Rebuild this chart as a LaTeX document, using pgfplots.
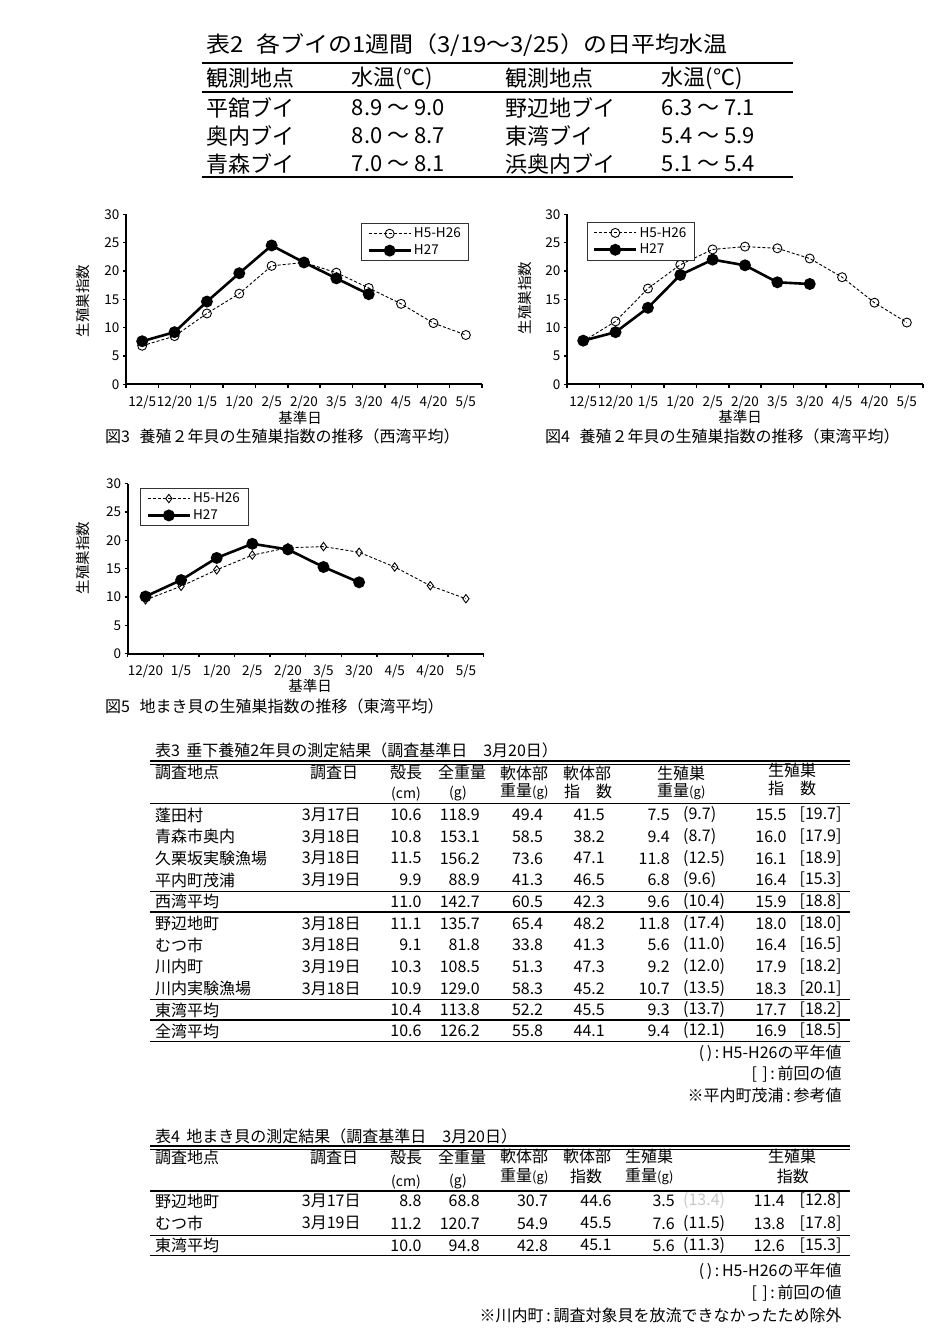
\documentclass[border=0pt]{standalone}
\usepackage{fontspec}
\setmainfont{Noto Sans CJK JP}
\usepackage{pgfplots}
\pgfplotsset{compat=1.18}
\newcommand\fs[1]{\fontsize{#1}{#1}\selectfont}

\pgfplotsset{
  gonad/.style={
    scale only axis, width=356pt, height=170pt,
    ymin=0, ymax=30, ytick={0,5,...,30},
    axis x line*=bottom, axis y line*=left,
    axis line style={line width=2pt},
    tick align=outside,
    major tick length=3pt, minor tick length=3.5pt,
    tick style={black, line width=1.5pt},
    major x tick style={draw=none},
    ticklabel style={font=\fs{13.5}},
    xticklabel style={yshift=-4.5pt},
    /pgf/number format/assume math mode=true,
    legend cell align=left,
    legend style={draw=black!80, line width=0.8pt, font=\fs{13.5},
      inner xsep=6pt, inner ysep=2.5pt, row sep=1.5pt, anchor=north west},
    clip=false,
  },
  avg/.style={black, line width=0.9pt, dash pattern=on 3pt off 2pt,
    mark=o, mark size=4.5pt, mark options={solid, fill=white, line width=0.9pt}},
  cur/.style={black, line width=2.6pt, mark=*, mark size=4.6pt, mark options={solid}},
}
\pgfplotsset{legend image code/.code={%
  \draw[mark repeat=2,mark phase=2,#1] plot coordinates {(0pt,0pt) (21pt,0pt) (42pt,0pt)};}}

\begin{document}
\begin{tikzpicture}
\useasboundingbox (0pt,0pt) rectangle (944pt,-1337pt);

% --- 図3 西湾平均
\begin{axis}[gonad, at={(126pt,-384.3pt)}, anchor=south west,
  xmin=-0.5, xmax=10.5, xtick={0,...,10}, minor xtick={-0.5,0.5,...,10.5},
  xticklabels={12/5,12/20,1/5,1/20,2/5,2/20,3/5,3/20,4/5,4/20,5/5},
  legend style={at={(0.66,0.948)}}]
\addplot[avg] coordinates {(0,6.8) (1,8.5) (2,12.5) (3,16.0) (4,20.9) (5,21.5) (6,19.7) (7,17.0) (8,14.2) (9,10.8) (10,8.7)};
\addplot[cur] coordinates {(0,7.6) (1,9.2) (2,14.6) (3,19.6) (4,24.5) (5,21.5) (6,18.7) (7,15.9)};
\legend{H5-H26,H27}
\end{axis}

% --- 図4 東湾平均
\begin{axis}[gonad, at={(567pt,-384.3pt)}, anchor=south west,
  xmin=-0.5, xmax=10.5, xtick={0,...,10}, minor xtick={-0.5,0.5,...,10.5},
  xticklabels={12/5,12/20,1/5,1/20,2/5,2/20,3/5,3/20,4/5,4/20,5/5},
  legend style={at={(0.055,0.953)}}]
\addplot[avg] coordinates {(0,7.6) (1,11.1) (2,16.9) (3,21.1) (4,23.8) (5,24.3) (6,24.0) (7,22.2) (8,18.9) (9,14.4) (10,10.9)};
\addplot[cur] coordinates {(0,7.7) (1,9.2) (2,13.5) (3,19.3) (4,22.0) (5,21.0) (6,18.0) (7,17.7)};
\legend{H5-H26,H27}
\end{axis}

% --- 図5 地まき貝
\begin{axis}[gonad, at={(127.7pt,-653.7pt)}, anchor=south west,
  xmin=-0.5, xmax=9.5, xtick={0,...,9}, minor xtick={-0.5,0.5,...,9.5},
  xticklabels={12/20,1/5,1/20,2/5,2/20,3/5,3/20,4/5,4/20,5/5},
  legend style={at={(0.035,0.975)}}]
\addplot[avg, mark=diamond, mark size=4.2pt] coordinates {(0,9.5) (1,11.9) (2,14.8) (3,17.4) (4,18.7) (5,18.9) (6,17.9) (7,15.3) (8,12.0) (9,9.7)};
\addplot[cur] coordinates {(0,10.1) (1,13.0) (2,16.9) (3,19.4) (4,18.4) (5,15.3) (6,12.6)};
\legend{H5-H26,H27}
\end{axis}

\begin{scope}[x=1pt, y=-1pt, every node/.style={inner sep=0pt, font=\fs{16}}]
% 表2
\node[anchor=west, font=\fs{22}, xscale=1.09] at (206.7,45) {表2\hspace{0.5em}各ブイの1週間（3/19～3/25）の日平均水温};
\draw[line width=2pt] (201.7,62.7) -- (793.3,62.7);
\draw[line width=1.8pt] (201.7,91.7) -- (793.3,91.7);
\draw[line width=2pt] (201.7,176.7) -- (793.3,176.7);
\begin{scope}[every node/.style={inner sep=0pt, font=\fs{22}, anchor=west}]
\node at (206.7,78) {観測地点}; \node at (351.7,78) {水温(℃)};
\node at (505,78) {観測地点}; \node at (661.7,78) {水温(℃)};
\foreach \y/\a/\b/\c/\d in {107.5/平舘ブイ/8.9 ～ 9.0/野辺地ブイ/6.3 ～ 7.1,
  136/奥内ブイ/8.0 ～ 8.7/東湾ブイ/5.4 ～ 5.9,
  164/青森ブイ/7.0 ～ 8.1/浜奥内ブイ/5.1 ～ 5.4}{
  \node at (206.7,\y) {\a}; \node at (351.7,\y) {\b};
  \node at (505,\y) {\c}; \node at (661.7,\y) {\d};
}
\end{scope}

% chart texts
\begin{scope}[every node/.style={inner sep=0pt, font=\fs{14.5}}]
\node[rotate=90] at (83,301) {生殖巣指数};
\node[rotate=90] at (525,298) {生殖巣指数};
\node[rotate=90] at (83,558) {生殖巣指数};
\node at (300,418) {基準日};
\node at (740,416.7) {基準日};
\node at (310,686) {基準日};
\end{scope}
\begin{scope}[every node/.style={inner sep=0pt, font=\fs{16}, anchor=west}]
\node at (105,436) {図3\hspace{0.6em}養殖２年貝の生殖巣指数の推移（西湾平均）};
\node at (545,436) {図4\hspace{0.6em}養殖２年貝の生殖巣指数の推移（東湾平均）};
\node at (105,706) {図5\hspace{0.6em}地まき貝の生殖巣指数の推移（東湾平均）};
\end{scope}

% 表3
\node[anchor=west] at (155,750) {表3\hspace{0.4em}垂下養殖2年貝の測定結果（調査基準日　3月20日）};
\draw[line width=1.8pt] (150,760.7) -- (850,760.7);
\draw[line width=0.8pt] (150,764.2) -- (850,764.2);
\begin{scope}[every node/.style={inner sep=0pt, font=\fs{16}, anchor=west}]
\node at (155,772) {調査地点}; \node at (310,772) {調査日};
\node at (390,772) {殻長}; \node at (438,772) {全重量};
\node at (500,773) {軟体部}; \node at (563,773) {軟体部};
\node at (657,773) {生殖巣}; \node at (768,770) {生殖巣};
\node[font=\fs{14}] at (391,794) {(cm)}; \node[font=\fs{14}] at (449,794) {(g)};
\node at (500,791.7) {重量{\fs{13}(g)}}; \node at (564,791.7) {指　数};
\node at (657,791.7) {重量{\fs{13}(g)}}; \node at (768,788.3) {指　数};
\end{scope}
\draw[line width=1.2pt] (150,803.3) -- (850,803.3);
\draw[line width=1pt] (150,891.5) -- (850,891.5);
\draw[line width=2pt] (150,911.7) -- (850,911.7);
\draw[line width=1pt] (150,999.3) -- (850,999.3);
\draw[line width=2pt] (150,1020.3) -- (850,1020.3);
\draw[line width=1pt] (150,1041) -- (850,1041);
\foreach \y/\n/\d/\a/\b/\c/\e/\f/\p/\g/\h in {
  815/蓬田村/3月17日/10.6/118.9/49.4/41.5/7.5/(9.7)/15.5/[19.7],
  836.7/青森市奥内/3月18日/10.8/153.1/58.5/38.2/9.4/(8.7)/16.0/[17.9],
  858.3/久栗坂実験漁場/3月18日/11.5/156.2/73.6/47.1/11.8/(12.5)/16.1/[18.9],
  880/平内町茂浦/3月19日/9.9/88.9/41.3/46.5/6.8/(9.6)/16.4/[15.3],
  901.7/西湾平均//11.0/142.7/60.5/42.3/9.6/(10.4)/15.9/[18.8],
  923.4/野辺地町/3月18日/11.1/135.7/65.4/48.2/11.8/(17.4)/18.0/[18.0],
  945/むつ市/3月18日/9.1/81.8/33.8/41.3/5.6/(11.0)/16.4/[16.5],
  966.7/川内町/3月19日/10.3/108.5/51.3/47.3/9.2/(12.0)/17.9/[18.2],
  988.4/川内実験漁場/3月18日/10.9/129.0/58.3/45.2/10.7/(13.5)/18.3/[20.1],
  1010/東湾平均//10.4/113.8/52.2/45.5/9.3/(13.7)/17.7/[18.2],
  1031/全湾平均//10.6/126.2/55.8/44.1/9.4/(12.1)/16.9/[18.5]}{
  \node[anchor=west] at (155,\y) {\n};
  \node[anchor=west] at (301.7,\y) {\d};
  \node[anchor=east] at (421.7,\y) {\a};
  \node[anchor=east] at (480,\y) {\b};
  \node[anchor=east] at (543.3,\y) {\c};
  \node[anchor=east] at (605,\y) {\e};
  \node[anchor=east] at (670,\y) {\f};
  \node[anchor=west] at (683,\y) {\p};
  \node[anchor=east] at (786.7,\y) {\g};
  \node[anchor=east] at (841.7,\y) {\h};
}
\node[anchor=east] at (841.7,1053) {(\,)\,:\,H5-H26の平年値};
\node[anchor=east] at (841.7,1074) {[\,\,]\,:\,前回の値};
\node[anchor=east] at (841.7,1095) {※平内町茂浦\,:\,参考値};

% 表4
\node[anchor=west] at (155,1136) {表4\hspace{0.4em}地まき貝の測定結果（調査基準日　3月20日）};
\draw[line width=1.8pt] (150,1146) -- (850,1146);
\draw[line width=0.8pt] (150,1149.5) -- (850,1149.5);
\begin{scope}[every node/.style={inner sep=0pt, font=\fs{16}, anchor=west}]
\node at (155,1157) {調査地点}; \node at (310,1157) {調査日};
\node at (390,1157) {殻長}; \node at (438,1157) {全重量};
\node at (500,1156.7) {軟体部}; \node at (563,1156.7) {軟体部};
\node at (625,1156.7) {生殖巣}; \node at (768,1156.7) {生殖巣};
\node[font=\fs{14}] at (391,1182) {(cm)}; \node[font=\fs{14}] at (449,1182) {(g)};
\node at (500,1176.7) {重量{\fs{13}(g)}}; \node at (570,1176.7) {指数};
\node at (625,1176.7) {重量{\fs{13}(g)}}; \node at (776.7,1176.7) {指数};
\end{scope}
\draw[line width=2pt] (150,1190.7) -- (850,1190.7);
\draw[line width=1pt] (150,1235) -- (850,1235);
\draw[line width=1pt] (150,1255.7) -- (850,1255.7);
\foreach \y/\n/\d/\a/\b/\c/\e/\f/\p/\g/\h/\col in {
  1201/野辺地町/3月17日/8.8/68.8/30.7/44.6/3.5/(13.4)/11.4/[12.8]/black!22,
  1223.3/むつ市/3月19日/11.2/120.7/54.9/45.5/7.6/(11.5)/13.8/[17.8]/black,
  1245.3/東湾平均//10.0/94.8/42.8/45.1/5.6/(11.3)/12.6/[15.3]/black}{
  \node[anchor=west] at (155,\y) {\n};
  \node[anchor=west] at (301.7,\y) {\d};
  \node[anchor=east] at (421.7,\y) {\a};
  \node[anchor=east] at (480,\y) {\b};
  \node[anchor=east] at (548.3,\y) {\c};
  \node[anchor=east] at (611.7,\y) {\e};
  \node[anchor=east] at (675,\y) {\f};
  \node[anchor=west, text=\col] at (683,\y) {\p};
  \node[anchor=east] at (785,\y) {\g};
  \node[anchor=east] at (841.7,\y) {\h};
}
\node[anchor=east] at (841.7,1271.7) {(\,)\,:\,H5-H26の平年値};
\node[anchor=east] at (841.7,1293.3) {[\,\,]\,:\,前回の値};
\node[anchor=east] at (841.7,1315) {※川内町\,:\,調査対象貝を放流できなかったため除外};
\end{scope}
\end{tikzpicture}
\end{document}
